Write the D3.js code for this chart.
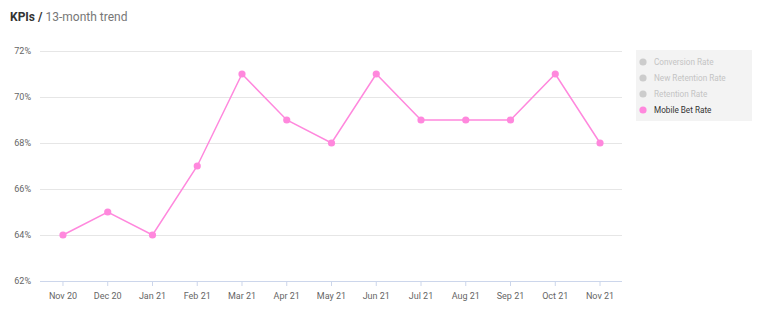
<!DOCTYPE html>
<html><head><meta charset="utf-8">
<script src="https://cdn.jsdelivr.net/npm/d3@7"></script>
<style>
body{margin:0;background:#fff;font-family:Roboto,"Noto Sans",sans-serif;}
svg{display:block}
</style></head>
<body><svg id="c" width="760" height="310"></svg>
<script>
const categories = ["Nov 20","Dec 20","Jan 21","Feb 21","Mar 21","Apr 21","May 21","Jun 21","Jul 21","Aug 21","Sep 21","Oct 21","Nov 21"];
const mobileBetRate = [64,65,64,67,71,69,68,71,69,69,69,71,68];
const yTicks = [62,64,66,68,70,72];
const legendItems = ["Conversion Rate","New Retention Rate","Retention Rate","Mobile Bet Rate"];
const legendActive = [false,false,false,true];

const svg = d3.select("#c");
const pink = "#ff88dd";

// title
const t = svg.append("text").attr("x",10).attr("y",21).attr("font-size",12);
t.append("tspan").attr("font-weight","bold").attr("fill","#333").text("KPIs / ");
t.append("tspan").attr("fill","#777").text("13-month trend");

const x = d3.scaleBand().domain(categories).range([40.6,622.4]);
const y = d3.scaleLinear().domain([62,72]).range([281,51]);

// grid
svg.append("g").selectAll("line").data(yTicks.filter(v=>v>62)).join("line")
  .attr("x1",40).attr("x2",622).attr("y1",d=>y(d)).attr("y2",d=>y(d))
  .attr("stroke","#e6e6e6").attr("stroke-width",1).attr("shape-rendering","crispEdges");

// y labels
svg.append("g").selectAll("text").data(yTicks).join("text")
  .attr("x",31).attr("y",d=>y(d)+3).attr("text-anchor","end")
  .attr("font-size",9).attr("fill","#666").text(d=>d+"%");

// x axis
const xAxis = d3.axisBottom(x).tickSize(5).tickSizeOuter(0);
const gx = svg.append("g").attr("transform","translate(0,281)").call(xAxis);
gx.select(".domain").attr("stroke","#ccd6eb").attr("d","M40,0.5H622");
gx.selectAll(".tick line").attr("stroke","#ccd6eb");
gx.selectAll(".tick text").attr("font-size",9).attr("fill","#666").attr("dy","1.1em").attr("font-family","Roboto,sans-serif");

// line
const line = d3.line().x((d,i)=>x(categories[i])+x.bandwidth()/2).y(d=>y(d));
svg.append("path").datum(mobileBetRate).attr("d",line).attr("fill","none")
  .attr("stroke",pink).attr("stroke-width",1.5);
svg.append("g").selectAll("circle").data(mobileBetRate).join("circle")
  .attr("cx",(d,i)=>x(categories[i])+x.bandwidth()/2).attr("cy",d=>y(d))
  .attr("r",3.6).attr("fill",pink);

// legend
svg.append("rect").attr("x",636).attr("y",50).attr("width",116).attr("height",71).attr("fill","#f3f3f3");
const lg = svg.append("g").selectAll("g").data(legendItems).join("g")
  .attr("transform",(d,i)=>`translate(643,${62+i*16})`);
lg.append("circle").attr("r",3.6).attr("fill",(d,i)=>legendActive[i]?pink:"#cccccc");
lg.append("text").attr("x",11).attr("y",3).attr("font-size",8.2)
  .attr("fill",(d,i)=>legendActive[i]?"#333":"#c4c4c4").text(d=>d);
</script></body></html>
